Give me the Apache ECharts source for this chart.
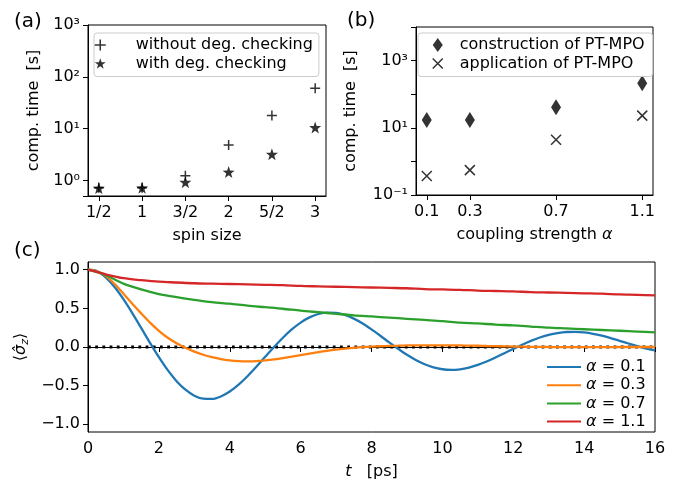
<!DOCTYPE html>
<html>
<head>
<meta charset="utf-8">
<script src="https://cdn.jsdelivr.net/npm/echarts@6/dist/echarts.min.js"></script>
<style>
html,body{margin:0;padding:0;background:#fff;}
#chart{width:680px;height:481px;}
</style>
</head>
<body>
<div id="chart"></div>
<script>
// ---------- Panel (a) ----------
const spinLabels = ['1/2', '1', '3/2', '2', '5/2', '3'];
const spinValues = [0.5, 1, 1.5, 2, 2.5, 3];
const timeWithout = [0.72, 0.72, 1.23, 4.8, 18, 60];
const timeWith = [0.71, 0.72, 0.92, 1.45, 3.2, 10.5];

// ---------- Panel (b) ----------
const couplings = [0.1, 0.3, 0.7, 1.1];
const timeConstruction = [17, 17, 41, 210];
const timeApplication = [0.37, 0.55, 4.4, 23];

// ---------- Panel (c) ----------
// fine time grid (0.25 ps) for the oscillating curves
const timesFine = [0, 0.25, 0.5, 0.75, 1, 1.25, 1.5, 1.75, 2, 2.25, 2.5, 2.75, 3, 3.25, 3.5, 3.75,
  4, 4.25, 4.5, 4.75, 5, 5.25, 5.5, 5.75, 6, 6.25, 6.5, 6.75, 7, 7.25, 7.5, 7.75,
  8, 8.25, 8.5, 8.75, 9, 9.25, 9.5, 9.75, 10, 10.25, 10.5, 10.75, 11, 11.25, 11.5, 11.75,
  12, 12.25, 12.5, 12.75, 13, 13.25, 13.5, 13.75, 14, 14.25, 14.5, 14.75, 15, 15.25, 15.5, 15.75, 16];
const sz01 = [1.0, 0.984, 0.901, 0.776, 0.619, 0.439, 0.247, 0.053, -0.132, -0.300, -0.442, -0.553, -0.630, -0.669, -0.672, -0.640,
  -0.576, -0.487, -0.378, -0.256, -0.127, 0.0, 0.120, 0.227, 0.316, 0.383, 0.427, 0.446, 0.441, 0.414, 0.367, 0.304,
  0.228, 0.146, 0.060, -0.023, -0.101, -0.168, -0.223, -0.264, -0.288, -0.296, -0.289, -0.267, -0.232, -0.188, -0.136, -0.080,
  -0.024, 0.030, 0.080, 0.123, 0.156, 0.180, 0.194, 0.196, 0.188, 0.171, 0.146, 0.115, 0.080, 0.045, 0.010, -0.02, -0.045];
const sz03 = [1.0, 0.98, 0.92, 0.815, 0.69, 0.56, 0.435, 0.315, 0.21, 0.12, 0.05, -0.01, -0.06, -0.10, -0.132, -0.157,
  -0.173, -0.182, -0.185, -0.182, -0.173, -0.16, -0.143, -0.125, -0.105, -0.085, -0.066, -0.049, -0.034, -0.021, -0.01, -0.002,
  0.005, 0.01, 0.014, 0.017, 0.02, 0.021, 0.022, 0.022, 0.022, 0.021, 0.02, 0.018, 0.016, 0.013, 0.011, 0.008,
  0.006, 0.004, 0.002, 0.001, 0.0, -0.001, -0.002, -0.002, -0.002, -0.002, -0.001, -0.001, 0.0, 0.0, 0.0, 0.0, 0.0];
// coarse time grid (0.5 ps) for the slowly decaying curves
const times = [0, 0.5, 1, 1.5, 2, 2.5, 3, 3.5, 4, 4.5, 5, 5.5, 6, 6.5, 7, 7.5, 8,
  8.5, 9, 9.5, 10, 10.5, 11, 11.5, 12, 12.5, 13, 13.5, 14, 14.5, 15, 15.5, 16];
const sz07 = [1.0, 0.93, 0.82, 0.745, 0.685, 0.645, 0.61, 0.58, 0.56, 0.535, 0.515, 0.495, 0.47, 0.45, 0.43, 0.41, 0.395,
  0.38, 0.365, 0.35, 0.335, 0.315, 0.305, 0.29, 0.28, 0.265, 0.25, 0.24, 0.23, 0.22, 0.21, 0.2, 0.19];
const sz11 = [1.0, 0.94, 0.89, 0.865, 0.845, 0.835, 0.825, 0.82, 0.815, 0.81, 0.805, 0.80, 0.79, 0.785, 0.78, 0.775, 0.77,
  0.765, 0.76, 0.75, 0.745, 0.74, 0.73, 0.725, 0.72, 0.71, 0.705, 0.70, 0.695, 0.69, 0.68, 0.675, 0.667];
const alphaNames = ['α = 0.1', 'α = 0.3', 'α = 0.7', 'α = 1.1'];
const yTicksC = [-1, -0.5, 0, 0.5, 1];
const zeroLevel = 0;

const FONT = 'DejaVu Sans';
const FS = 16;
const colors = ['#1f77b4', '#ff7f0e', '#2ca02c', '#d62728'];

function pairs(xs, ys) { return xs.map((x, i) => [x, ys[i]]); }
const supDigits = {'0':'⁰','1':'¹','2':'²','3':'³','4':'⁴','-':'⁻'};
function logLabel(keep) {
  return function (v) {
    const e = Math.round(Math.log10(v));
    if (Math.abs(v - Math.pow(10, e)) / v > 1e-6) return '';
    if (!keep(e)) return '';
    return '10' + String(e).split('').map(c => supDigits[c]).join('');
  };
}
function fmtC(v) {
  const s = v.toFixed(1);
  return s.replace('-', '−');
}

const axisLineStyle = {show: true, lineStyle: {color: '#000', width: 1}};
const tickStyle = {show: true, length: 5, lineStyle: {color: '#000', width: 1}};
const labelBase = {color: '#000', fontFamily: FONT, fontSize: FS};
const nameStyle = {color: '#000', fontFamily: FONT, fontSize: FS};
const titleStyle = {fontFamily: FONT, fontSize: 20, fontWeight: 'normal', color: '#000'};

const PLUS = 'path://M5,0L5,10M0,5L10,5';
const CROSS = 'path://M0,0L10,10M0,10L10,0';
const STAR = 'path://M0,-10L2.35,-3.24L9.51,-3.09L3.8,1.24L5.88,8.09L0,4L-5.88,8.09L-3.8,1.24L-9.51,-3.09L-2.35,-3.24Z';

const lineSets = [[timesFine, sz01], [timesFine, sz03], [times, sz07], [times, sz11]];

const option = {
  animation: false,
  backgroundColor: '#fff',
  textStyle: {fontFamily: FONT},
  title: [
    {text: '(a)', left: 14, top: 12, padding: 0, textStyle: titleStyle},
    {text: '(b)', left: 347, top: 11, padding: 0, textStyle: titleStyle},
    {text: '(c)', left: 14, top: 241, padding: 0, textStyle: titleStyle}
  ],
  grid: [
    {left: 88, top: 25, width: 238, height: 171, show: true, borderColor: '#000', borderWidth: 1, backgroundColor: 'transparent'},
    {left: 416, top: 27, width: 237, height: 168, show: true, borderColor: '#000', borderWidth: 1, backgroundColor: 'transparent'},
    {left: 88, top: 262, width: 567, height: 170, show: true, borderColor: '#000', borderWidth: 1, backgroundColor: 'transparent'}
  ],
  xAxis: [
    {
      type: 'value', gridIndex: 0, min: 0.375, max: 3.125,
      axisLine: axisLineStyle,
      axisTick: Object.assign({customValues: spinValues}, tickStyle),
      axisLabel: Object.assign({customValues: spinValues, margin: 9,
        formatter: v => { const i = spinValues.findIndex(s => Math.abs(s - v) < 1e-9); return i >= 0 ? spinLabels[i] : ''; }}, labelBase),
      splitLine: {show: false},
      name: 'spin size', nameLocation: 'middle', nameGap: 32, nameTextStyle: nameStyle
    },
    {
      type: 'value', gridIndex: 1, min: 0.05, max: 1.15,
      axisLine: axisLineStyle,
      axisTick: Object.assign({customValues: couplings}, tickStyle),
      axisLabel: Object.assign({customValues: couplings, margin: 9,
        formatter: v => v.toFixed(1)}, labelBase),
      splitLine: {show: false},
      name: 'coupling strength {i|α}', nameLocation: 'middle', nameGap: 32,
      nameTextStyle: Object.assign({rich: {i: {fontStyle: 'italic', fontFamily: FONT, fontSize: FS, color: '#000'}}}, nameStyle)
    },
    {
      type: 'value', gridIndex: 2, min: 0, max: 16, interval: 2,
      axisLine: axisLineStyle,
      axisTick: tickStyle,
      axisLabel: Object.assign({margin: 9}, labelBase),
      splitLine: {show: false},
      name: '{i|t}   [ps]', nameLocation: 'middle', nameGap: 32,
      nameTextStyle: Object.assign({rich: {i: {fontStyle: 'italic', fontFamily: FONT, fontSize: FS, color: '#000'}}}, nameStyle)
    }
  ],
  yAxis: [
    {
      type: 'log', logBase: 10, gridIndex: 0, min: 0.5, max: 1000,
      axisLine: axisLineStyle, axisTick: tickStyle,
      axisLabel: Object.assign({margin: 8, formatter: logLabel(e => true)}, labelBase),
      splitLine: {show: false},
      name: 'comp. time  [s]', nameLocation: 'middle', nameRotate: 90, nameGap: 46, nameTextStyle: nameStyle
    },
    {
      type: 'log', logBase: 10, gridIndex: 1, min: 0.1, max: 10000,
      axisLine: axisLineStyle, axisTick: tickStyle,
      axisLabel: Object.assign({margin: 8, formatter: logLabel(e => Math.abs(e) % 2 === 1)}, labelBase),
      splitLine: {show: false},
      name: 'comp. time  [s]', nameLocation: 'middle', nameRotate: 90, nameGap: 57, nameTextStyle: nameStyle
    },
    {
      type: 'value', gridIndex: 2, min: -1.1, max: 1.1,
      axisLine: axisLineStyle,
      axisTick: Object.assign({customValues: yTicksC}, tickStyle),
      axisLabel: Object.assign({customValues: yTicksC, margin: 8, formatter: fmtC}, labelBase),
      splitLine: {show: false},
      name: '⟨{i|σ̂}{s|z}⟩', nameLocation: 'middle', nameRotate: 90, nameGap: 56,
      nameTextStyle: Object.assign({rich: {
        i: {fontStyle: 'italic', fontFamily: FONT, fontSize: FS, color: '#000'},
        s: {fontStyle: 'italic', fontFamily: FONT, fontSize: 11, color: '#000', padding: [7, 0, 0, 0]}
      }}, nameStyle)
    }
  ],
  legend: [
    {
      data: ['without deg. checking', 'with deg. checking'],
      left: 94, top: 33, orient: 'vertical',
      itemWidth: 11, itemHeight: 11, itemGap: 2.5,
      padding: [4, 6, 5, 0],
      borderColor: '#cccccc', borderWidth: 1, borderRadius: 3, backgroundColor: 'rgba(255,255,255,0.8)',
      itemStyle: {borderWidth: 1.5},
      textStyle: {color: '#000', fontFamily: FONT, fontSize: FS, lineHeight: 15, padding: [0, 0, 0, 25]}
    },
    {
      data: ['construction of PT-MPO', 'application of PT-MPO'],
      left: 418, top: 33, orient: 'vertical',
      itemWidth: 10, itemHeight: 14, itemGap: 2.5,
      padding: [4, 8, 5, 14],
      borderColor: '#cccccc', borderWidth: 1, borderRadius: 3, backgroundColor: 'rgba(255,255,255,0.8)',
      itemStyle: {borderWidth: 1.5},
      textStyle: {color: '#000', fontFamily: FONT, fontSize: FS, lineHeight: 15, padding: [0, 0, 0, 12]}
    },
    {
      data: alphaNames,
      left: 546, top: 359, orient: 'vertical',
      itemWidth: 34, itemHeight: 15, itemGap: 2.2, padding: 0,
      itemStyle: {opacity: 0},
      formatter: n => n.replace('α', '{i|α}'),
      textStyle: {color: '#000', fontFamily: FONT, fontSize: FS, lineHeight: 15,
        rich: {i: {fontStyle: 'italic', fontFamily: FONT, fontSize: FS, color: '#000'}}}
    }
  ],
  series: [
    {
      name: 'without deg. checking', type: 'scatter', xAxisIndex: 0, yAxisIndex: 0,
      data: pairs(spinValues, timeWithout), symbol: PLUS, symbolSize: 10,
      itemStyle: {color: 'rgba(0,0,0,0)', borderColor: '#000', borderWidth: 1.5}
    },
    {
      name: 'with deg. checking', type: 'scatter', xAxisIndex: 0, yAxisIndex: 0,
      data: pairs(spinValues, timeWith), symbol: STAR, symbolSize: 12,
      itemStyle: {color: '#000'}
    },
    {
      name: 'construction of PT-MPO', type: 'scatter', xAxisIndex: 1, yAxisIndex: 1,
      data: pairs(couplings, timeConstruction), symbol: 'diamond', symbolSize: [10, 16],
      itemStyle: {color: '#000'}
    },
    {
      name: 'application of PT-MPO', type: 'scatter', xAxisIndex: 1, yAxisIndex: 1,
      data: pairs(couplings, timeApplication), symbol: CROSS, symbolSize: 10,
      itemStyle: {color: 'rgba(0,0,0,0)', borderColor: '#000', borderWidth: 1.5}
    },
    {
      name: 'zero', type: 'line', xAxisIndex: 2, yAxisIndex: 2, silent: true,
      data: [[times[0], zeroLevel], [times[times.length - 1], zeroLevel]],
      symbol: 'none', lineStyle: {color: '#000', width: 2.8, type: [2.8, 4.4], cap: 'butt'}, z: 1
    },
    ...lineSets.map(([xs, ys], k) => ({
      name: alphaNames[k], type: 'line', xAxisIndex: 2, yAxisIndex: 2,
      data: pairs(xs, ys), symbol: 'none', showSymbol: false, smooth: 0.3, z: 2 + k,
      color: colors[k],
      lineStyle: {color: colors[k], width: 2.3}
    }))
  ]
};

const chart = echarts.init(document.getElementById('chart'), null, {renderer: 'canvas'});
chart.setOption(option);
</script>
</body>
</html>
